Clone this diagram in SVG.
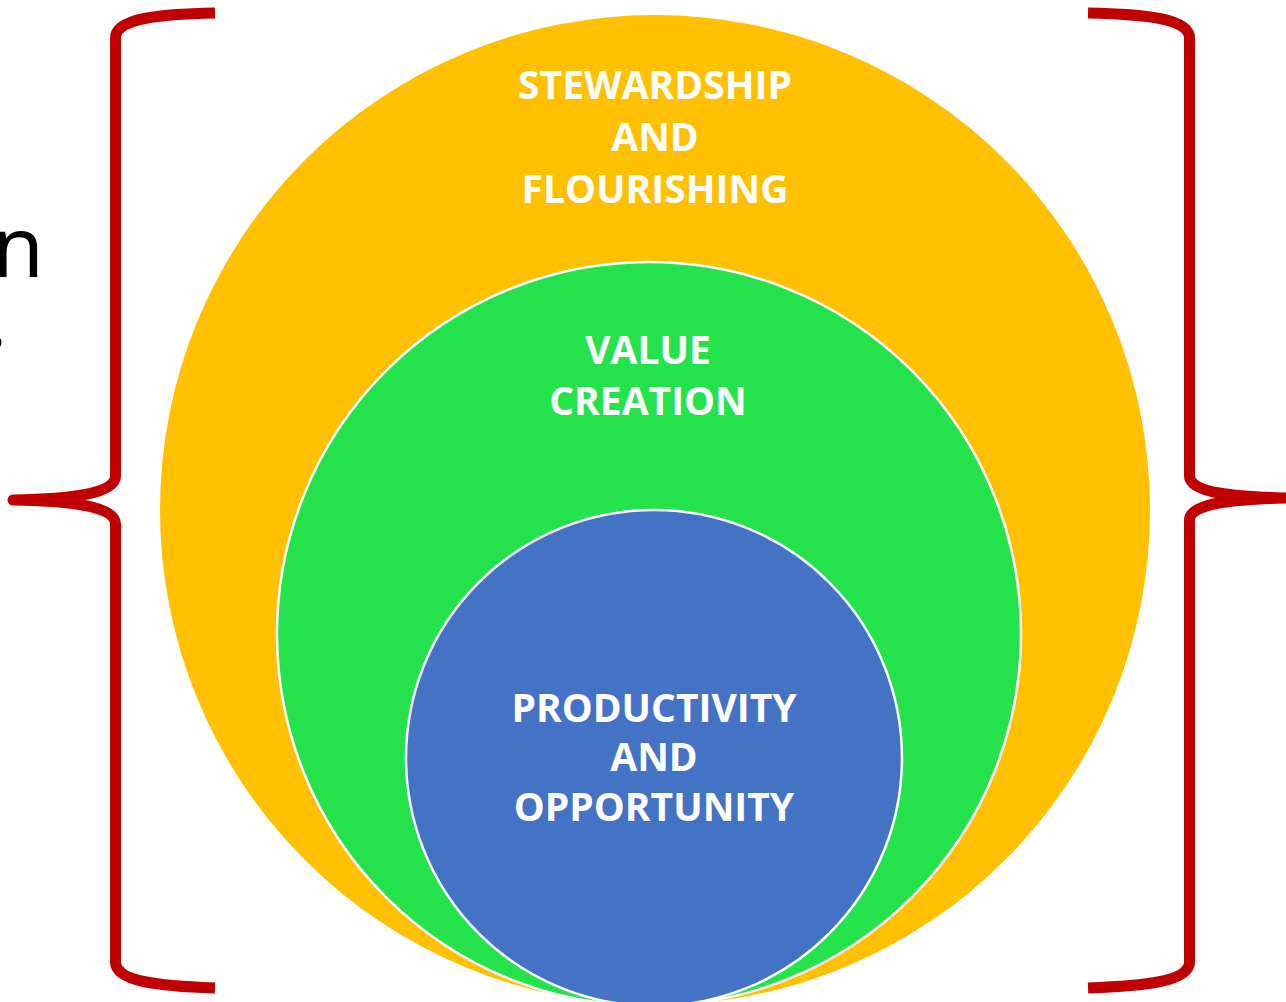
<svg xmlns="http://www.w3.org/2000/svg" width="1286" height="1002" viewBox="0 0 1286 1002">
  <style>
    .brace { fill: none; stroke: #C00000; stroke-width: 11; stroke-linejoin: round; }
    .lbl { font-family: "Open Sans", "Noto Sans", "Liberation Sans", sans-serif; font-weight: bold; font-size: 39px; fill: #FFFFFF; text-anchor: middle; }
    .side { font-family: "Noto Sans", "Open Sans", sans-serif; font-size: 84px; fill: #000000; }
  </style>
  <rect width="1286" height="1002" fill="#FFFFFF"/>

  <g id="side-text">
    <text class="side" x="44" y="277" text-anchor="end">n</text>
    <text class="side" x="-15" y="347">.</text>
  </g>

  <g id="stewardship">
    <circle cx="655" cy="510" r="495" fill="#FFC000"/>
    <text class="lbl" x="655" y="99">STEWARDSHIP</text>
    <text class="lbl" x="655" y="151">AND</text>
    <text class="lbl" x="655" y="203">FLOURISHING</text>
  </g>

  <g id="value-creation">
    <circle cx="649" cy="634" r="372" fill="#23E24C" stroke="#FFFFFF" stroke-width="2.5"/>
    <text class="lbl" x="648" y="364">VALUE</text>
    <text class="lbl" x="648" y="415">CREATION</text>
  </g>

  <g id="productivity">
    <circle cx="654" cy="758" r="248" fill="#4472C4" stroke="#FFFFFF" stroke-width="2.5"/>
    <text class="lbl" x="654" y="722">PRODUCTIVITY</text>
    <text class="lbl" x="654" y="771">AND</text>
    <text class="lbl" x="654" y="821">OPPORTUNITY</text>
  </g>

  <g id="connectors">
    <path class="brace" d="M215,13 C160,14 115.5,18 115.5,38 L115.5,476 C115.5,494 70,499 13,500 C70,501 115.5,506 115.5,524 L115.5,962 C115.5,982 160,986 215,988"/>
    <path class="brace" d="M1088,13 C1143,14 1189.5,18 1189.5,38 L1189.5,476 C1189.5,493 1236,497 1286,498 C1236,499 1189.5,503 1189.5,520 L1189.5,962 C1189.5,982 1143,986 1088,988"/>
  </g>
</svg>
